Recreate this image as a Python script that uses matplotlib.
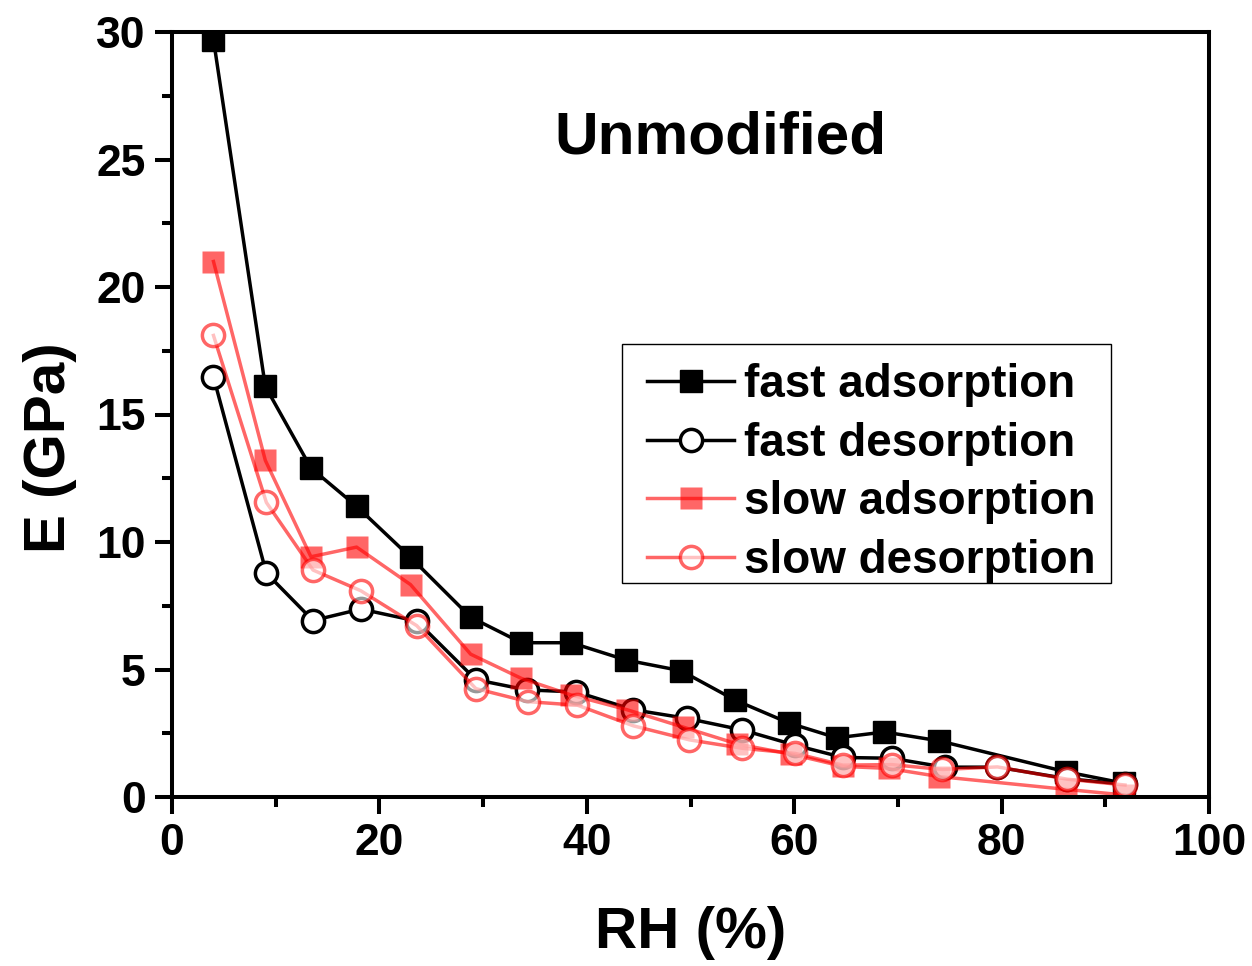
import matplotlib
matplotlib.use("Agg")
import matplotlib.pyplot as plt
from matplotlib.ticker import MultipleLocator
from matplotlib.patches import Rectangle

plt.rcParams['font.family'] = ['Liberation Sans', 'DejaVu Sans']
plt.rcParams['font.weight'] = 'bold'

# ---- data ----
fast_ads_x = [4.0, 9.0, 13.4, 17.8, 23.0, 28.8, 33.7, 38.5, 43.8, 49.1, 54.3, 59.5, 64.1, 68.7, 74.0, 86.2, 91.8]
fast_ads_y = [29.7, 16.1, 12.9, 11.4, 9.4, 7.05, 6.05, 6.05, 5.37, 4.95, 3.8, 2.9, 2.32, 2.55, 2.2, 0.99, 0.54]

fast_des_x = [4.0, 9.1, 13.6, 18.2, 23.6, 29.3, 34.2, 39.0, 44.5, 49.7, 55.0, 60.1, 64.7, 69.4, 74.5, 79.6, 86.3, 91.9]
fast_des_y = [16.47, 8.78, 6.92, 7.37, 6.9, 4.6, 4.2, 4.12, 3.42, 3.08, 2.63, 2.03, 1.55, 1.52, 1.17, 1.17, 0.72, 0.5]

slow_ads_x = [4.0, 9.0, 13.4, 17.8, 23.0, 28.8, 33.7, 38.5, 43.9, 49.3, 54.5, 59.7, 64.7, 69.1, 74.0, 86.2, 91.8]
slow_ads_y = [21.0, 13.2, 9.42, 9.8, 8.33, 5.6, 4.65, 4.0, 3.42, 2.74, 2.08, 1.68, 1.2, 1.12, 0.8, 0.3, 0.08]

slow_des_x = [4.0, 9.1, 13.6, 18.2, 23.6, 29.3, 34.3, 39.1, 44.5, 49.9, 55.0, 60.1, 64.7, 69.4, 74.3, 79.6, 86.3, 91.9]
slow_des_y = [18.1, 11.55, 8.9, 8.09, 6.72, 4.25, 3.74, 3.6, 2.79, 2.24, 1.91, 1.71, 1.25, 1.27, 1.08, 1.18, 0.7, 0.47]

series_labels = ['fast adsorption', 'fast desorption', 'slow adsorption', 'slow desorption']
x_ticks = [0, 20, 40, 60, 80, 100]
y_ticks = [0, 5, 10, 15, 20, 25, 30]

# ---- figure ----
W, H = 1252, 966
fig = plt.figure(figsize=(W / 100, H / 100), dpi=100)
ax = fig.add_axes([172 / W, 1 - 797 / H, (1209 - 172) / W, (797 - 32) / H])

lw = 2.5
ms = 16
ax.plot(fast_ads_x, fast_ads_y, color='black', lw=lw, marker='s', ms=ms,
        mfc='black', mec='black', label=series_labels[0])
ax.plot(fast_des_x, fast_des_y, color='black', lw=lw, marker='o', ms=ms,
        mfc='white', mec='black', mew=2.5, label=series_labels[1])
ax.plot(slow_ads_x, slow_ads_y, color='red', alpha=0.6, lw=lw, marker='s', ms=ms,
        mfc='red', mec='none', label=series_labels[2])
ax.plot(slow_des_x, slow_des_y, color='red', alpha=0.6, lw=lw, marker='o', ms=ms,
        mfc='white', mec='red', mew=2.5, label=series_labels[3])

ax.set_xlim(0, 100)
ax.set_ylim(0, 30)
ax.set_xticks(x_ticks)
ax.set_yticks(y_ticks)
ax.xaxis.set_minor_locator(MultipleLocator(10))
ax.yaxis.set_minor_locator(MultipleLocator(2.5))

for s in ax.spines.values():
    s.set_linewidth(2.9)
ax.tick_params(which='major', direction='out', length=12, width=2.9,
               labelsize=32, pad=7)
ax.tick_params(which='minor', direction='out', length=7, width=2.9)
for lab in ax.get_xticklabels() + ax.get_yticklabels():
    lab.set_fontweight('bold')

ax.set_xlabel('RH (%)', fontsize=42, fontweight='bold')
ax.set_ylabel('E (GPa)', fontsize=42, fontweight='bold')
ax.xaxis.set_label_coords(0.5, -0.142)
ax.yaxis.set_label_coords(-0.092, 0.456)

fig.text(720 / W, 1 - 153 / H, 'Unmodified', fontsize=43.5, fontweight='bold',
         ha='center', va='baseline')

# legend box (drawn separately for exact size)
fig.patches.append(Rectangle((622 / W, 1 - 583 / H), (1111 - 622) / W, (583 - 344) / H,
                             transform=fig.transFigure, fill=False,
                             ec='black', lw=1.0))
leg = ax.legend(loc='upper left', bbox_to_anchor=(647 / W, 1 - 363 / H),
                bbox_transform=fig.transFigure, fontsize=33, frameon=False,
                handlelength=1.9, handletextpad=0.22, labelspacing=0.32,
                borderpad=0, borderaxespad=0)
for t in leg.get_texts():
    t.set_fontweight('bold')

fig.savefig('out.png', dpi=100)
